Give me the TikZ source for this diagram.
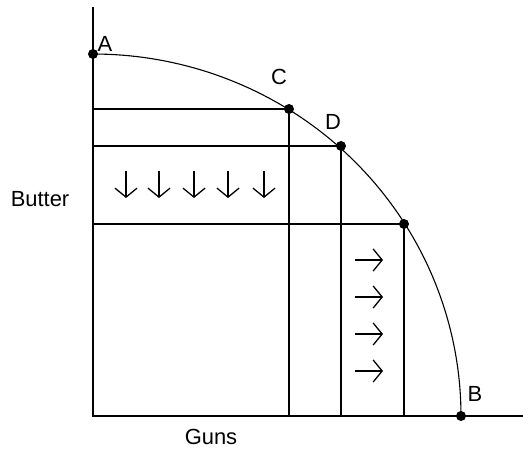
\documentclass[tikz,border=0pt]{standalone}
\usepackage{fontspec}
\setmainfont{Liberation Sans}
\usetikzlibrary{arrows.meta,positioning,calc}
\tikzset{
  axisline/.style={draw=black, line width=1.6bp},
  guide/.style={draw=black, line width=1.6bp},
  ppf/.style={draw=black, line width=1.1bp},
  dot/.style={circle, fill=black, inner sep=0pt, minimum size=10bp},
  ptlbl/.style={font=\fontsize{22}{22}\selectfont, inner sep=0pt},
  axlbl/.style={font=\fontsize{22}{22}\selectfont, inner sep=0pt},
  move/.style={-{Straight Barb[length=9bp, width=22bp, line width=1.3bp]}, line width=1.3bp}
}

\begin{document}
\begin{tikzpicture}[x=1bp, y=-1bp]
  \useasboundingbox (0,0) rectangle (523,454);
  % axes
  \coordinate (O) at (93,416);
  \coordinate (ytop) at (93,7);
  \coordinate (xend) at (523,416);
  \draw[axisline] (ytop) -- (O) -- (xend);
  % frontier
  \draw[ppf] plot[domain=90:0, samples=80] ({93+368*cos(\x)},{416-362*sin(\x)});
  \node[dot] (A) at (93,54) {};
  \node[dot] (C) at (289,109) {};
  \node[dot] (D) at (341,146) {};
  \node[dot] (E) at (404,224) {};
  \node[dot] (B) at (461,416) {};
  % guide lines
  \draw[guide] (C.center) -- (C.center -| O);
  \draw[guide] (D.center) -- (D.center -| O);
  \draw[guide] (E.center) -- (E.center -| O);
  \draw[guide] (C.center) -- (C.center |- O);
  \draw[guide] (D.center) -- (D.center |- O);
  \draw[guide] (E.center) -- (E.center |- O);
  % labels
  \node[ptlbl] (lA) at (105,44) {A};
  \node[ptlbl] (lC) at (279,77) {C};
  \node[ptlbl] (lD) at (333,122) {D};
  \node[ptlbl] (lB) at (475,394) {B};
  \node[axlbl] (butter) at (40,199) {Butter};
  \node[axlbl] (guns) at (211,437) {Guns};
  % shifts
  \foreach \xx in {126,159,194,228,264}
    \draw[move] (\xx,171) -- (\xx,198);
  \foreach \yy in {260,297,334,371}
    \draw[move] (355,\yy) -- (383,\yy);
\end{tikzpicture}
\end{document}
